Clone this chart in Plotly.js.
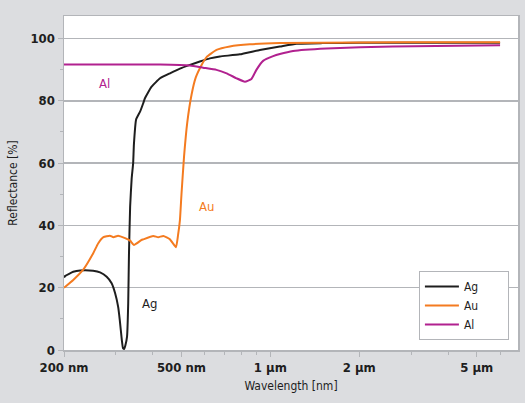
<!DOCTYPE html>
<html>
<head>
<meta charset="utf-8">
<script src="https://cdn.plot.ly/plotly-3.0.1.min.js"></script>
<style>html,body{margin:0;padding:0;background:#dcdde0;}#chart{width:525px;height:403px;}</style>
</head>
<body>
<div id="chart"></div>
<script>
// Wavelength in nm, reflectance in %
const agWavelength = [200, 202, 215, 227, 251, 265, 279, 290, 298, 305, 309, 314, 317, 320, 323, 327, 330, 332, 335, 339, 343, 345, 351, 362, 371, 376, 396, 423, 457, 494, 534, 577, 624, 675, 788, 921, 1077, 1226, 1500, 2000, 3000, 4000, 6000];
const agReflectance = [23.3, 23.8, 25.1, 25.5, 25.4, 24.9, 23.5, 21.4, 18.2, 13.9, 9.6, 3.2, 0.5, 0.4, 1.6, 4.3, 15, 31, 46, 55, 60, 66, 74, 76.5, 79.2, 80.8, 84.5, 87.2, 88.8, 90.3, 91.5, 92.6, 93.6, 94.2, 94.9, 96.3, 97.4, 98.3, 98.5, 98.6, 98.6, 98.6, 98.6];

const auWavelength = [200, 215, 232, 251, 261, 272, 286, 294, 305, 322, 335, 345, 366, 371, 401, 417, 434, 457, 479, 487, 494, 500, 510, 523, 541, 559, 585, 608, 657, 729, 852, 1077, 2000, 4000, 6000];
const auReflectance = [20, 22.5, 25.7, 31, 34.2, 36.2, 36.7, 36.2, 36.7, 35.9, 35.1, 33.7, 35.3, 35.5, 36.6, 36.2, 36.6, 35.5, 33, 37, 41.7, 50, 62, 73, 82, 87.5, 91.5, 94, 96.3, 97.4, 98.1, 98.5, 98.7, 98.8, 98.8];

const alWavelength = [200, 300, 423, 534, 592, 657, 711, 768, 820, 863, 898, 945, 1022, 1077, 1194, 1549, 2602, 6000];
const alReflectance = [91.6, 91.6, 91.6, 91.3, 90.6, 89.9, 88.8, 87.2, 86.1, 87.0, 90.0, 92.8, 94.3, 95.0, 96.0, 96.8, 97.4, 97.8];

const seriesNames = ['Ag', 'Au', 'Al'];
const seriesColors = ['#1e1e1e', '#f47b20', '#b1218f'];

const xTickVals = [200, 500, 1000, 2000, 5000];
const xTickText = ['200 nm', '500 nm', '1 µm', '2 µm', '5 µm'];
const xMinorVals = [300, 400, 600, 700, 800, 900, 3000, 4000, 6000];
const yTickVals = [0, 20, 40, 60, 80, 100];

const labelPos = [[391, 14.8], [608, 46.2], [275, 85.4]];

const FONT = '"Liberation Sans Narrow", "DejaVu Sans Condensed", "Roboto", sans-serif';
const GRID = '#b3b5b9';
const PAD = '\u00a0\u00a0\u00a0\u00a0\u00a0\u00a0\u00a0';

const data = [
  {x: agWavelength, y: agReflectance},
  {x: auWavelength, y: auReflectance},
  {x: alWavelength, y: alReflectance}
].map((d, i) => ({
  x: d.x, y: d.y, type: 'scatter', mode: 'lines', name: seriesNames[i] + PAD,
  line: {color: seriesColors[i], width: 2, shape: 'spline', smoothing: 0.4}
}));

const annotations = seriesNames.map((n, i) => ({
  x: Math.log10(labelPos[i][0]), y: labelPos[i][1], xref: 'x', yref: 'y',
  text: n, showarrow: false, font: {family: FONT, size: 13, color: seriesColors[i]}
}));

const layout = {
  width: 525, height: 403,
  paper_bgcolor: '#dcdde0', plot_bgcolor: '#ffffff',
  margin: {l: 64, r: 7, t: 16, b: 53},
  font: {family: FONT, color: '#1e1e1e'},
  showlegend: true,
  legend: {
    x: 0.98, xanchor: 'right', y: 0.03, yanchor: 'bottom',
    bgcolor: '#ffffff', bordercolor: GRID, borderwidth: 1,
    font: {family: FONT, size: 12, color: '#1e1e1e'},
    tracegroupgap: 0, itemwidth: 34
  },
  xaxis: {
    type: 'log', range: [Math.log10(200), Math.log10(6900)],
    tickmode: 'array', tickvals: xTickVals, ticktext: xTickText,
    ticks: 'outside', ticklen: 5, tickcolor: GRID, tickwidth: 1,
    minor: {tickmode: 'array', tickvals: xMinorVals, ticks: 'outside', ticklen: 3, tickcolor: GRID, showgrid: false},
    showgrid: false, zeroline: false,
    showline: true, linecolor: GRID, linewidth: 1.5, mirror: true,
    tickfont: {family: FONT, size: 13, color: '#1e1e1e', weight: 'bold'},
    title: {text: 'Wavelength [nm]', font: {family: FONT, size: 12, color: '#1e1e1e'}, standoff: 7}
  },
  yaxis: {
    range: [0, 107.2],
    tickmode: 'array', tickvals: yTickVals,
    ticks: 'outside', ticklen: 5, tickcolor: GRID, tickwidth: 1,
    minor: {dtick: 10, ticks: 'outside', ticklen: 3, tickcolor: GRID, showgrid: false},
    showgrid: true, gridcolor: GRID, gridwidth: 1.5, zeroline: false,
    showline: true, linecolor: GRID, linewidth: 1.5, mirror: true,
    tickfont: {family: FONT, size: 13, color: '#1e1e1e', weight: 'bold'},
    title: {text: 'Reflectance [%]', font: {family: FONT, size: 12, color: '#1e1e1e'}, standoff: 10}
  },
  annotations: annotations
};

Plotly.newPlot('chart', data, layout, {displayModeBar: false, staticPlot: true});
</script>
</body>
</html>
